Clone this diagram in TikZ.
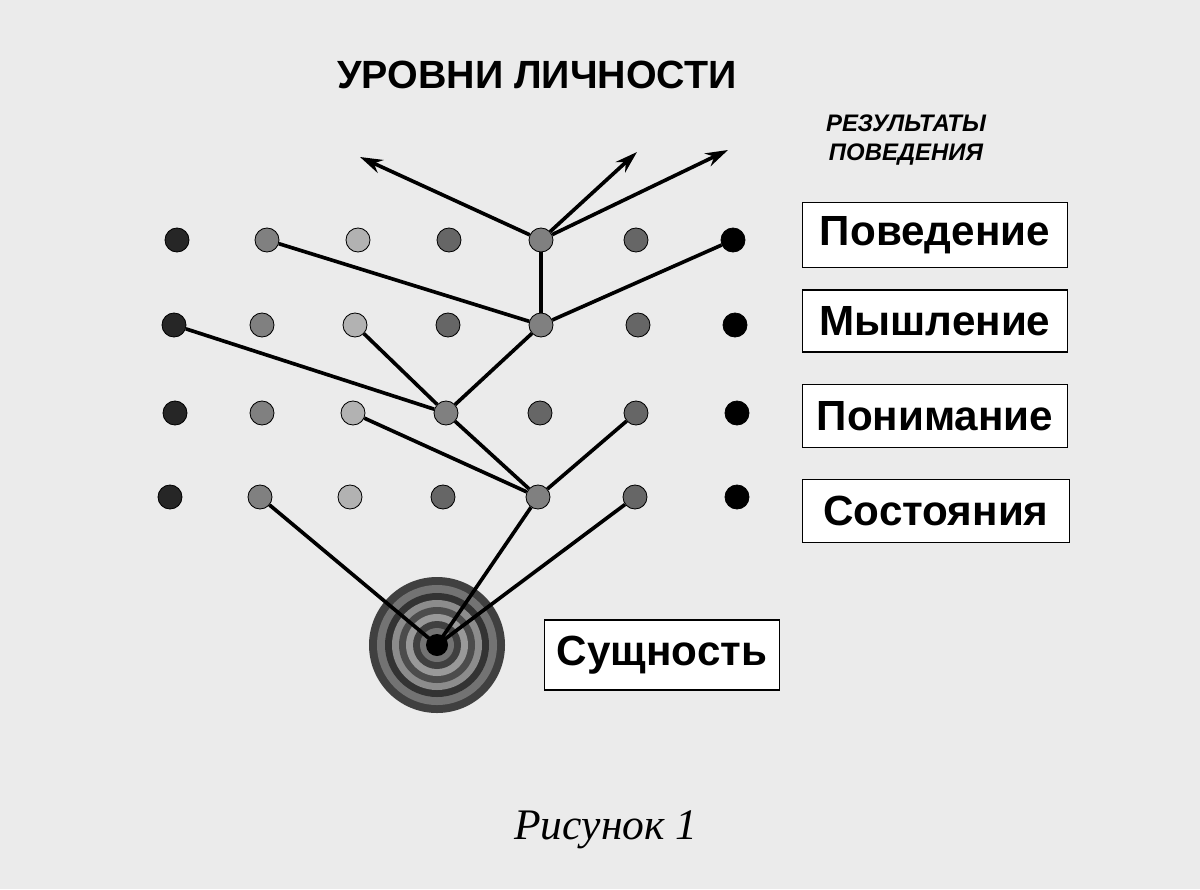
\documentclass[tikz,border=0pt]{standalone}
\usepackage{fontspec}
\setmainfont{Liberation Sans}
\newfontfamily\serifcap{Liberation Serif}
\usetikzlibrary{arrows.meta}
\begin{document}
\begin{tikzpicture}[x=0.025cm,y=-0.025cm,
  dot/.style={circle,draw=black,line width=0.6pt,inner sep=0pt,minimum size=0.6cm},
  dk/.style={dot,fill=black!85},
  gr/.style={dot,fill=black!50},
  lt/.style={dot,fill=black!30},
  md/.style={dot,fill=black!60},
  bk/.style={dot,fill=black},
  lbl/.style={draw=black,line width=0.8pt,fill=white,font=\bfseries\fontsize{30}{34}\selectfont,inner sep=0pt},
  ln/.style={line width=2.6pt}]
\useasboundingbox (0,0) rectangle (1200,889);
\fill[black!8] (0,0) rectangle (1200,889);
\node[font=\bfseries\fontsize{28}{32}\selectfont] (title) at (537,75) {УРОВНИ ЛИЧНОСТИ};
\node[font=\bfseries\itshape\fontsize{17}{21}\selectfont,align=center] (res) at (906,140) {РЕЗУЛЬТАТЫ\\ПОВЕДЕНИЯ};
\node[font=\serifcap\itshape\fontsize{31}{34}\selectfont] (fig) at (606,830) {Рисунок 1};
% rows
\foreach \x/\s [count=\i] in {177/dk,267/gr,358/lt,449/md,541/gr,636/md,733/bk}
  \node[\s] (a\i) at (\x,240) {};
\foreach \x/\s [count=\i] in {174/dk,262/gr,355/lt,448/md,541/gr,638/md,735/bk}
  \node[\s] (b\i) at (\x,325) {};
\foreach \x/\s [count=\i] in {175/dk,262/gr,353/lt,446/gr,540/md,636/md,737/bk}
  \node[\s] (c\i) at (\x,413) {};
\foreach \x/\s [count=\i] in {170/dk,260/gr,350/lt,443/md,538/gr,635/md,737/bk}
  \node[\s] (d\i) at (\x,497) {};
% target
\foreach \r/\c in {68/black!75,60/black!55,52/black!80,45/black!45,38/black!70,31/black!40,24/black!75,17/black!55,11/black}
  \fill[\c] (437,645) circle (\r);
\coordinate (core) at (437,645);
% boxes
\node[lbl,minimum width=265*0.025cm,minimum height=65*0.025cm] (p1) at (935,235) {Поведение};
\node[lbl,minimum width=265*0.025cm,minimum height=62*0.025cm] (p2) at (935,321) {Мышление};
\node[lbl,minimum width=265*0.025cm,minimum height=63*0.025cm] (p3) at (935,416) {Понимание};
\node[lbl,minimum width=267*0.025cm,minimum height=63*0.025cm] (p4) at (936,511) {Состояния};
\node[lbl,minimum width=235*0.025cm,minimum height=70*0.025cm] (p5) at (662,655) {Сущность};
% connectors
\coordinate (t1) at (360,157);
\coordinate (t2) at (637,152);
\coordinate (t3) at (728,150);
\draw[ln] (a2) -- (b5);
\draw[ln] (a7) -- (b5);
\draw[ln] (b5) -- (a5);
\foreach \t in {t1,t2,t3} \draw[ln,-{Stealth[length=16pt,width=10pt]}] (a5) -- (\t);
\draw[ln] (b1) -- (c4);
\draw[ln] (b3) -- (c4);
\draw[ln] (c4) -- (b5);
\draw[ln] (c3) -- (d5);
\draw[ln] (c4) -- (d5);
\draw[ln] (c6) -- (d5);
\draw[ln] (d2) -- (core);
\draw[ln] (d5) -- (core);
\draw[ln] (d6) -- (core);
\end{tikzpicture}
\end{document}
